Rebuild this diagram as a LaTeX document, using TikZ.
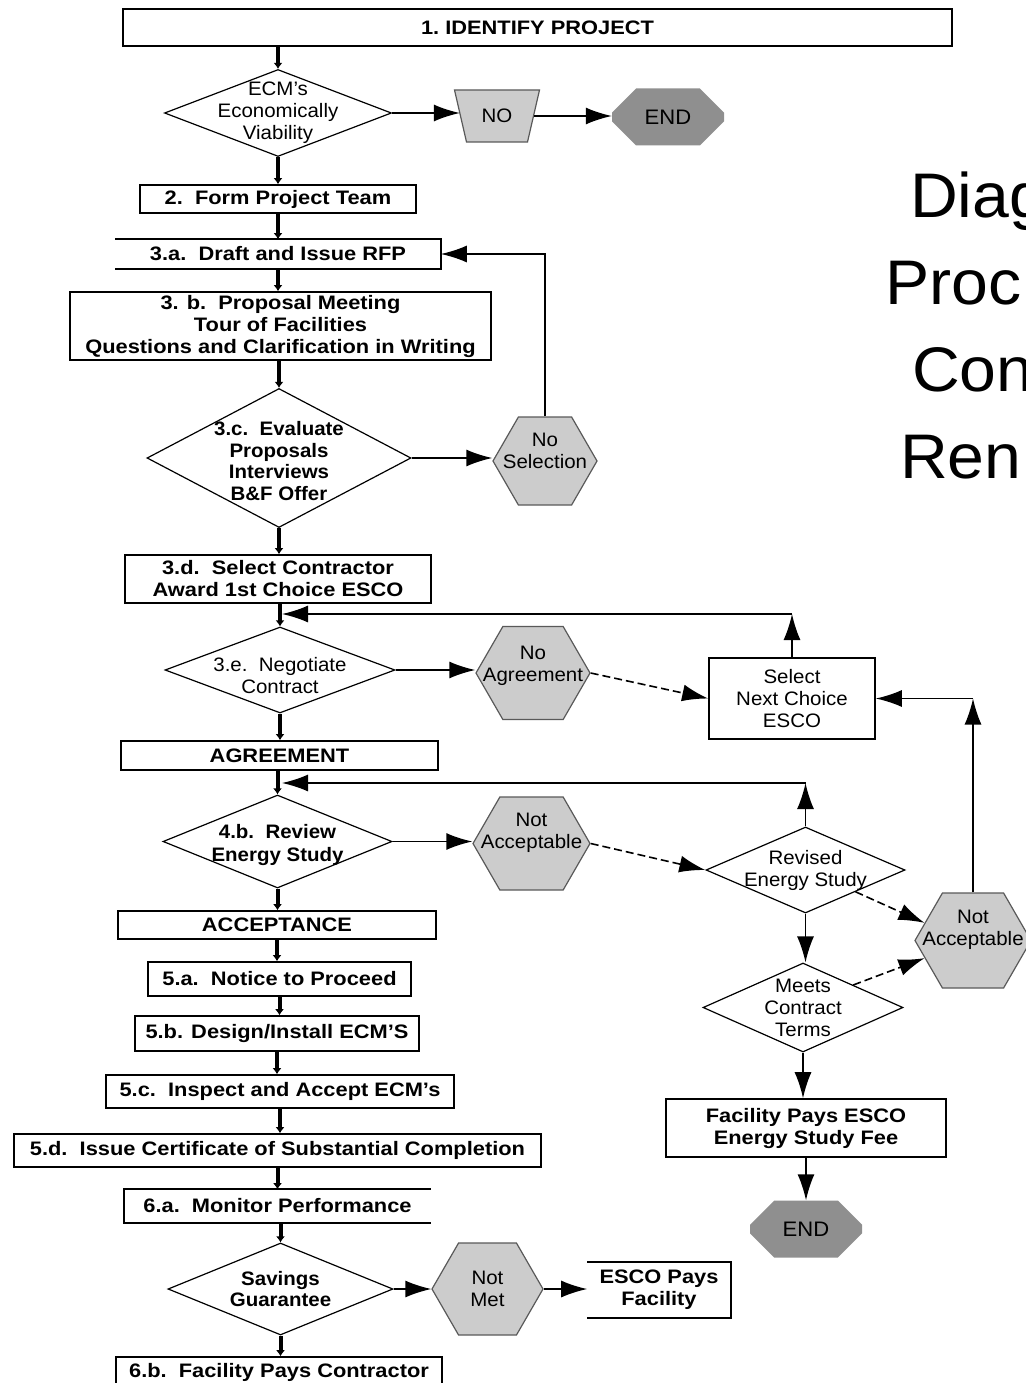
\documentclass[tikz,border=0pt]{standalone}
\usepackage{fontspec}
\setmainfont{Liberation Sans}[FakeStretch=1.05]
\newfontfamily\stepfont{Liberation Sans}[FakeStretch=1.12]
\usetikzlibrary{arrows.meta}
\usetikzlibrary{shapes.geometric}
\usetikzlibrary{shapes.symbols}
\usetikzlibrary{shapes.misc}

\definecolor{hexgray}{gray}{0.80}
\definecolor{endgray}{gray}{0.56}
\definecolor{edgegray}{gray}{0.35}

\begin{document}
\begin{tikzpicture}[x=1pt, y=-1pt]
                \tikzstyle{stepbox} = [draw, line width=1.6pt, rectangle, inner sep=0pt, align=center, font=\stepfont\bfseries\fontsize{19.5}{22}\selectfont]
                \tikzstyle{plainbox} = [stepbox, font=\fontsize{19.5}{22}\selectfont]
                \tikzstyle{openbox} = [stepbox, draw=none]
                \tikzstyle{choice} = [draw, diamond, line width=1.2pt, inner sep=0pt]
                \tikzstyle{choicetext} = [align=center, font=\fontsize{19.5}{22}\selectfont]
                \tikzstyle{hexbox} = [draw=edgegray, fill=hexgray, line width=1.2pt, signal, signal to=east and west, signal pointer angle=120, inner sep=0pt]
                \tikzstyle{endbox} = [fill=endgray, chamfered rectangle, chamfered rectangle xsep=17pt, chamfered rectangle ysep=17pt, inner sep=0pt, minimum width=112pt, minimum height=57pt, font=\fontsize{21}{24}\selectfont]
                \tikzstyle{titletext} = [anchor=base west, inner sep=0pt, font=\fontsize{63}{76}\selectfont]
                \tikzstyle{mainarrow} = [line width=4pt, -{Latex[length=6pt,width=9pt]}]
                \tikzstyle{sidearrow} = [line width=1.6pt, -{Latex[length=26pt,width=17pt]}]
                \tikzstyle{dasharrow} = [sidearrow, dash pattern=on 8pt off 4pt]
                \useasboundingbox (0,0) rectangle (1025,1383);
                % left column
                \node[stepbox, minimum width=829pt, minimum height=37pt] (ident) at (537.5,27.5) {1.\ IDENTIFY PROJECT};
                \node[choice, minimum width=227pt, minimum height=87pt, label={[choicetext]center:{ECM’s\\Economically\\Viability}}] (ecm) at (278,113) {};
                \node[draw=edgegray, fill=hexgray, line width=1.2pt, trapezium, trapezium left angle=103, trapezium right angle=103, inner xsep=0pt, inner ysep=19pt, text width=61pt, text height=14pt, text depth=0pt, align=center, font=\fontsize{19.5}{22}\selectfont] (no) at (497,116) {NO};
                \node[endbox] (end1) at (668,117) {END};
                \node[stepbox, minimum width=276pt, minimum height=28pt] (team) at (278,199) {2.\ \ Form Project Team};
                \node[openbox, minimum width=324pt, minimum height=28pt] (rfp) at (278,254) {3.a.\ \ Draft and Issue RFP};
                \node[stepbox, minimum width=421pt, minimum height=68pt] (meet) at (280.5,326) {3. b.\ \ Proposal Meeting\\Tour of Facilities\\Questions and Clarification in Writing};
                \node[choice, minimum width=264pt, minimum height=139pt, label={[choicetext, font=\bfseries\fontsize{19.5}{21.5}\selectfont, yshift=-3pt]center:{3.c.\ \ Evaluate\\Proposals\\Interviews\\B\&F Offer}}] (eval) at (279,458) {};
                \node[hexbox, minimum width=104pt, minimum height=88pt, label={[choicetext, yshift=10pt]center:{No\\Selection}}] (nosel) at (545,461) {};
                \node[stepbox, minimum width=306pt, minimum height=48pt] (select) at (278,579) {3.d.\ \ Select Contractor\\Award 1st Choice ESCO};
                \node[choice, minimum width=230pt, minimum height=86pt, label={[choicetext, yshift=-6pt]center:{3.e.\ \ Negotiate\\Contract}}] (nego) at (280,670) {};
                \node[hexbox, minimum width=114pt, minimum height=93pt, label={[choicetext, yshift=7pt]center:{No\\Agreement}}] (noagr) at (533,673) {};
                \node[plainbox, minimum width=166pt, minimum height=81pt] (nextesco) at (792,698.5) {Select\\Next Choice\\ESCO};
                \node[stepbox, minimum width=317pt, minimum height=29pt] (agree) at (279.5,755.5) {AGREEMENT};
                \node[choice, minimum width=229pt, minimum height=93pt, label={[choicetext, font=\bfseries\fontsize{19.5}{23}\selectfont, yshift=-3pt]center:{4.b.\ \ Review\\Energy Study}}] (review) at (277.5,841.5) {};
                \node[hexbox, minimum width=117pt, minimum height=93pt, label={[choicetext, yshift=11pt]center:{Not\\Acceptable}}] (notacc) at (531.5,843.5) {};
                \node[choice, minimum width=199pt, minimum height=86pt, label={[choicetext]center:{Revised\\Energy Study}}] (revised) at (805.5,870) {};
                \node[hexbox, minimum width=116pt, minimum height=95pt, label={[choicetext, yshift=11pt]center:{Not\\Acceptable}}] (notaccb) at (973,940.5) {};
                \node[choice, minimum width=200pt, minimum height=89pt, label={[choicetext]center:{Meets\\Contract\\Terms}}] (meets) at (803,1007.5) {};
                \node[stepbox, minimum width=280pt, minimum height=58pt] (fee) at (806,1128) {Facility Pays ESCO\\Energy Study Fee};
                \node[endbox] (end2) at (806,1229) {END};
                \node[stepbox, minimum width=318pt, minimum height=28pt] (accept) at (277,925) {ACCEPTANCE};
                \node[stepbox, minimum width=263pt, minimum height=34pt] (notice) at (279.5,979) {5.a.\ \ Notice to Proceed};
                \node[stepbox, minimum width=284pt, minimum height=35pt] (design) at (277,1033.5) {5.b. Design/Install ECM’S};
                \node[stepbox, minimum width=348pt, minimum height=33pt] (inspect) at (280,1091.5) {5.c.\ \ Inspect and Accept ECM’s};
                \node[stepbox, minimum width=527pt, minimum height=33pt] (cert) at (277.5,1150.5) {5.d.\ \ Issue Certificate of Substantial Completion};
                \node[openbox, minimum width=305pt, minimum height=32pt] (monitor) at (277.5,1206) {6.a.\ \ Monitor Performance};
                \node[choice, minimum width=225pt, minimum height=92pt, label={[choicetext, font=\bfseries\fontsize{19.5}{21}\selectfont]center:{Savings\\Guarantee}}] (savings) at (280.5,1289) {};
                \node[hexbox, minimum width=111pt, minimum height=92pt, label={[choicetext]center:{Not\\Met}}] (notmet) at (487.5,1289) {};
                \node[openbox, minimum width=142pt, minimum height=54pt] (escopay) at (659,1290) {ESCO Pays\\Facility};
                \node[stepbox, minimum width=326pt, minimum height=30pt] (pays) at (279,1372) {6.b.\ \ Facility Pays Contractor};
                % open sides
                \draw[line width=1.6pt] (rfp.north west) -- (rfp.north east) -- (rfp.south east) -- (rfp.south west);
                \draw[line width=1.6pt] (monitor.north east) -- (monitor.north west) -- (monitor.south west) -- (monitor.south east);
                \draw[line width=1.6pt] (escopay.north west) -- (escopay.north east) -- (escopay.south east) -- (escopay.south west);
                % title
                \node[titletext] (title1) at (910,217) {Diag};
                \node[titletext] (title2) at (885,304) {Proc};
                \node[titletext] (title3) at (912,391) {Con};
                \node[titletext] (title4) at (900,478) {Ren};
                % main flow
                \coordinate (j1) at (282,614);
                \coordinate (j2) at (282,783);
                \draw[mainarrow] (ecm.north |- ident.south) -- (ecm.north);
                \draw[mainarrow] (ecm.south) -- (ecm.south |- team.north);
                \draw[mainarrow] (team.south) -- (team.south |- rfp.north);
                \draw[mainarrow] (rfp.south) -- (rfp.south |- meet.north);
                \draw[mainarrow] (eval.north |- meet.south) -- (eval.north);
                \draw[mainarrow] (eval.south) -- (eval.south |- select.north);
                \draw[mainarrow] (nego.north |- select.south) -- (nego.north);
                \draw[mainarrow] (nego.south) -- (nego.south |- agree.north);
                \draw[mainarrow] (review.north |- agree.south) -- (review.north);
                \draw[mainarrow] (review.south) -- (review.south |- accept.north);
                \draw[mainarrow] (accept.south) -- (accept.south |- notice.north);
                \draw[mainarrow] (notice.south) -- (notice.south |- design.north);
                \draw[mainarrow] (design.south) -- (design.south |- inspect.north);
                \draw[mainarrow] (inspect.south) -- (inspect.south |- cert.north);
                \draw[mainarrow] (cert.south) -- (cert.south |- monitor.north);
                \draw[mainarrow] (savings.north |- monitor.south) -- (savings.north);
                \draw[mainarrow] (savings.south) -- (savings.south |- pays.north);
                % side branches
                \draw[sidearrow] (ecm.east) -- (ecm.east -| no.west);
                \draw[sidearrow] (no.east) -- (no.east -| end1.west);
                \draw[sidearrow] (eval.east) -- (eval.east -| nosel.west);
                \draw[sidearrow] (nosel.north) |- (rfp.east);
                \draw[sidearrow] (nego.east) -- (nego.east -| noagr.west);
                \draw[dasharrow] (noagr.east) -- (nextesco.west);
                \draw[sidearrow] (nextesco.north) -- (nextesco.north |- j1);
                \draw[sidearrow] (nextesco.north |- j1) -- (j1);
                \draw[sidearrow] (review.east) -- (review.east -| notacc.west);
                \draw[dasharrow] (notacc.east) -- (revised.west);
                \draw[sidearrow] (revised.north) -- (revised.north |- j2);
                \draw[sidearrow] (revised.north |- j2) -- (j2);
                \draw[dasharrow] (revised.south east) -- (notaccb.160);
                \draw[sidearrow] (revised.south) -- (revised.south |- meets.north);
                \draw[dasharrow] (meets.north east) -- (notaccb.200);
                \draw[sidearrow] (notaccb.north) -- (notaccb.north |- nextesco.east);
                \draw[sidearrow] (notaccb.north |- nextesco.east) -- (nextesco.east);
                \draw[sidearrow] (meets.south) -- (meets.south |- fee.north);
                \draw[sidearrow] (fee.south) -- (fee.south |- end2.north);
                \draw[sidearrow] (savings.east) -- (notmet.west);
                \draw[sidearrow] (notmet.east) -- (notmet.east -| escopay.west);
            \end{tikzpicture}
\end{document}
